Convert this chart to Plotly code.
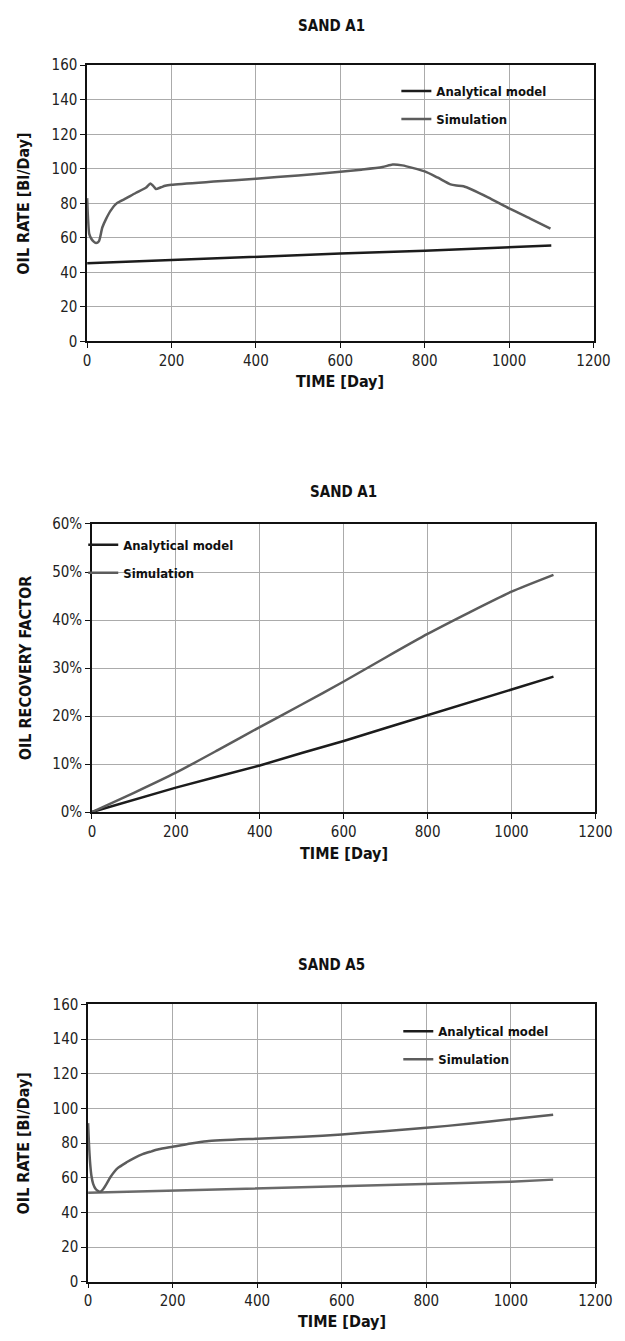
import plotly.graph_objects as go

W, H = 625, 1341

# ---------------- data ----------------
# Chart 1: SAND A1 oil rate
t1_ana = [0, 200, 400, 600, 800, 1000, 1100]
ana1 = [45.3, 47.2, 49.3, 50.9, 52.6, 54.5, 55.6]
t1_sim = [0, 2, 5, 10, 15, 21, 28, 36, 45, 55, 70, 93, 115, 139, 150, 157, 163, 175, 185, 200,
          300, 400, 500, 600, 650, 700, 724, 747, 800, 830, 861, 875, 892, 950, 1000, 1050, 1098]
sim1 = [83, 72, 62.3, 59.5, 58, 57, 58, 66, 71, 75.5, 80, 83, 86, 89, 91.5, 90, 88.3, 89.3, 90.2, 90.8,
        92.6, 94.3, 96.2, 98.3, 99.5, 101, 102.5, 102, 98.5, 95, 91, 90.3, 89.9, 83.5, 77.1, 71.2, 65.3]

# Chart 2: SAND A1 recovery factor
t2 = [0, 100, 200, 300, 400, 500, 600, 700, 800, 900, 1000, 1100]
ana2 = [0, 0.025, 0.051, 0.074, 0.097, 0.123, 0.148, 0.175, 0.202, 0.228, 0.255, 0.282]
sim2 = [0, 0.040, 0.082, 0.129, 0.177, 0.224, 0.272, 0.322, 0.371, 0.416, 0.459, 0.494]

# Chart 3: SAND A5 oil rate
t3_ana = [0, 200, 400, 600, 800, 1000, 1100]
ana3 = [51.3, 52.6, 54.0, 55.1, 56.4, 57.7, 58.9]
t3_sim = [0, 2, 5, 8, 12, 18, 24, 29, 36, 45, 53, 70, 91, 110, 129, 150, 167, 200, 243, 281,
          400, 509, 600, 700, 800, 900, 1000, 1100]
sim3 = [91.5, 80, 68, 61, 56.5, 53.5, 52.3, 51.9, 53.5, 57, 60.4, 65.5, 68.9, 71.5, 73.6, 75.2, 76.4, 77.9, 79.8, 81.1,
        82.5, 83.6, 85.0, 86.8, 88.8, 91.1, 93.8, 96.3]

x_ticks = [0, 200, 400, 600, 800, 1000, 1200]
rate_ticks = [0, 20, 40, 60, 80, 100, 120, 140, 160]
rf_ticks = [0, 0.1, 0.2, 0.3, 0.4, 0.5, 0.6]

titles = ["SAND A1", "SAND A1", "SAND A5"]
ytitles = ["OIL RATE [Bl/Day]", "OIL RECOVERY FACTOR", "OIL RATE [Bl/Day]"]
xtitle = "TIME [Day]"
names = ["Analytical model", "Simulation"]

# ---------------- style ----------------
BLACK = "#1c1c1c"
GRAY = "#5c5c5c"
GRAY3 = "#6a6a6a"
GRID = "#ababab"
TICKFONT = dict(family="DejaVu Sans Condensed, DejaVu Sans, sans-serif", size=15, color="#222")
BOLD = "DejaVu Sans Condensed, DejaVu Sans, sans-serif"

def px_x(p):
    return p / W

def px_y(p):
    return 1 - p / H

# plot areas in pixels: (left, right, top, bottom)
areas = [(86, 610, 57, 337), (91, 612, 522, 814), (87, 612, 1009, 1290)]
title_y = [17, 490, 969]
xtitle_y = [378, 856, 1330]
ytitle_x = [20, 22, 20]

fig = go.Figure()

SIM_LINE = dict(color=GRAY, width=2.5, shape="spline", smoothing=0.6)

fig.add_trace(go.Scatter(x=t1_ana, y=ana1, name=names[0], mode="lines", line=dict(color=BLACK, width=2.5),
                         xaxis="x", yaxis="y", legend="legend", legendgroup="a1"))
fig.add_trace(go.Scatter(x=t1_sim, y=sim1, name=names[1], mode="lines", line=SIM_LINE,
                         xaxis="x", yaxis="y", legend="legend", legendgroup="b1"))

fig.add_trace(go.Scatter(x=t2, y=ana2, name=names[0], mode="lines", line=dict(color=BLACK, width=2.5),
                         xaxis="x2", yaxis="y2", legend="legend2", legendgroup="a2"))
fig.add_trace(go.Scatter(x=t2, y=sim2, name=names[1], mode="lines", line=SIM_LINE,
                         xaxis="x2", yaxis="y2", legend="legend2", legendgroup="b2"))

fig.add_trace(go.Scatter(x=t3_ana, y=ana3, name=names[0], mode="lines", line=dict(color=GRAY3, width=2.5),
                         xaxis="x3", yaxis="y3", showlegend=False))
fig.add_trace(go.Scatter(x=t3_sim, y=sim3, name=names[1], mode="lines", line=SIM_LINE,
                         xaxis="x3", yaxis="y3", showlegend=False))
fig.add_trace(go.Scatter(x=[None], y=[None], name=names[0], mode="lines", line=dict(color=BLACK, width=2.5),
                         xaxis="x3", yaxis="y3", legend="legend3", legendgroup="a3"))
fig.add_trace(go.Scatter(x=[None], y=[None], name=names[1], mode="lines", line=dict(color=GRAY, width=2.5),
                         xaxis="x3", yaxis="y3", legend="legend3", legendgroup="b3"))

layout = dict(width=W, height=H, margin=dict(l=0, r=0, t=0, b=0),
              paper_bgcolor="white", plot_bgcolor="white", showlegend=True)

axis_common = dict(showline=True, linecolor="#111", linewidth=1.5, mirror=True,
                   ticks="outside", ticklen=5, tickcolor="#111", tickwidth=1,
                   showgrid=True, gridcolor=GRID, gridwidth=1, zeroline=False,
                   tickfont=TICKFONT, ticklabeloverflow="allow")

yranges = [[0, 160], [0, 0.6], [0, 160]]
yticksets = [rate_ticks, rf_ticks, rate_ticks]
annotations = []
for i, (l, r, t, b) in enumerate(areas):
    sx = "" if i == 0 else str(i + 1)
    layout["xaxis" + sx] = dict(axis_common, domain=[px_x(l), px_x(r)], range=[0, 1200],
                                tickvals=x_ticks, anchor="y" + sx)
    yd = dict(axis_common, domain=[px_y(b), px_y(t)], range=yranges[i],
              tickvals=yticksets[i], anchor="x" + sx)
    if i == 1:
        yd["tickformat"] = ".0%"
    layout["yaxis" + sx] = yd
    cx = (l + r) / 2
    cy = (t + b) / 2
    annotations.append(dict(text="<b>%s</b>" % titles[i], x=px_x(cx if i == 1 else 339), y=px_y(title_y[i]),
                            xref="paper", yref="paper", showarrow=False, xanchor="center", yanchor="middle",
                            font=dict(family=BOLD, size=15, color="#111")))
    annotations.append(dict(text="<b>%s</b>" % xtitle, x=px_x(cx), y=px_y(xtitle_y[i]),
                            xref="paper", yref="paper", showarrow=False, xanchor="center", yanchor="middle",
                            font=dict(family=BOLD, size=16, color="#111")))
    annotations.append(dict(text="<b>%s</b>" % ytitles[i], x=px_x(ytitle_x[i]), y=px_y(cy),
                            xref="paper", yref="paper", showarrow=False, textangle=-90,
                            xanchor="center", yanchor="middle",
                            font=dict(family=BOLD, size=16, color="#111")))

legend_common = dict(bgcolor="rgba(0,0,0,0)", borderwidth=0, xanchor="left", yanchor="top",
                     font=dict(family=BOLD, size=13, color="#111", weight="bold"),
                     tracegroupgap=8, itemwidth=30)
layout["legend"] = dict(legend_common, x=px_x(406), y=px_y(68))
layout["legend2"] = dict(legend_common, x=px_x(82), y=px_y(528))
layout["legend3"] = dict(legend_common, x=px_x(408), y=px_y(1021))
layout["annotations"] = annotations

fig.update_layout(**layout)
fig.write_html("out.html")
